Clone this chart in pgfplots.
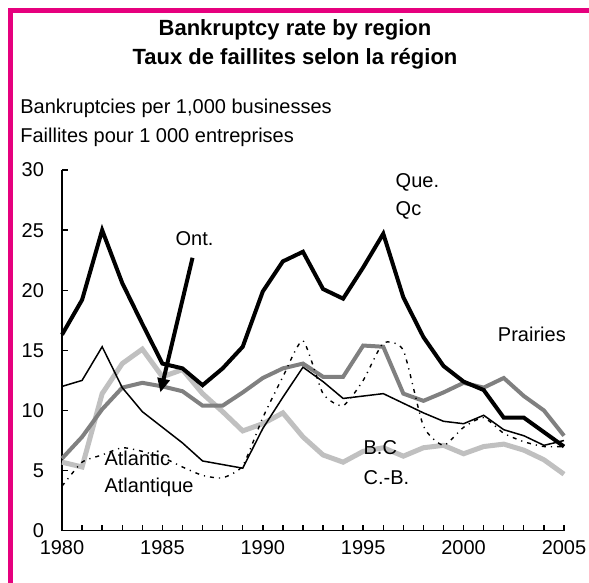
\documentclass[border=0pt]{standalone}
\usepackage{fontspec}
\setmainfont{Liberation Sans}
\usepackage{pgfplots}
\pgfplotsset{compat=1.18}
\usetikzlibrary{arrows.meta}
\definecolor{framemag}{RGB}{230,0,126}
\definecolor{prgrey}{RGB}{128,128,128}
\definecolor{bcgrey}{RGB}{192,192,192}

\begin{document}
\fontsize{10}{12}\selectfont
\begin{tikzpicture}
\path[use as bounding box] (0,0) rectangle (294.5pt,-291.5pt);
\begin{axis}[
  at={(31pt,-265.35pt)}, anchor=south west,
  scale only axis, width=251pt, height=180.35pt,
  xmin=1980, xmax=2005, ymin=0, ymax=30,
  axis x line*=bottom, axis y line*=left,
  axis line style={line width=0.7pt,-},
  xtick={1980,1985,...,2005}, minor xtick={1980,...,2005},
  ytick={0,5,...,30},
  tick align=inside,
  major tick length=3pt, minor tick length=3pt,
  every tick/.style={line width=0.7pt,black},
  /pgf/number format/assume math mode=true,
  xticklabel style={/pgf/number format/1000 sep={}, yshift=-1.5pt},
  yticklabel style={xshift=-5.5pt},
  tick label style={font=\fontsize{10}{12}\selectfont},
  clip=false,
]
% B.C. / C.-B.
\addplot[color=bcgrey, line width=2.5pt] coordinates {
  (1980,5.7) (1981,5.3) (1982,11.4) (1983,13.9) (1984,15.1) (1985,12.8) (1986,13.4) (1987,11.4) (1988,9.9) (1989,8.3)
  (1990,8.9) (1991,9.8) (1992,7.8) (1993,6.3) (1994,5.7) (1995,6.6) (1996,6.9) (1997,6.2) (1998,6.9) (1999,7.1)
  (2000,6.4) (2001,7.0) (2002,7.2) (2003,6.7) (2004,5.9) (2005,4.7)
};
% Prairies
\addplot[color=prgrey, line width=2pt] coordinates {
  (1980,6.0) (1981,7.8) (1982,10.1) (1983,11.9) (1984,12.3) (1985,12.0) (1986,11.6) (1987,10.4) (1988,10.4) (1989,11.5)
  (1990,12.7) (1991,13.5) (1992,13.9) (1993,12.8) (1994,12.8) (1995,15.4) (1996,15.3) (1997,11.4) (1998,10.8) (1999,11.5)
  (2000,12.3) (2001,11.9) (2002,12.7) (2003,11.2) (2004,10.0) (2005,7.9)
};
% Atlantic / Atlantique
\addplot[black, line width=0.7pt, smooth, tension=0.35, dash pattern=on 2pt off 2.5pt on 0.6pt off 2.5pt] coordinates {
  (1980,3.7) (1981,5.7) (1982,6.3) (1983,6.9) (1984,6.6) (1985,6.1) (1986,5.3) (1987,4.6) (1988,4.4) (1989,5.4)
  (1990,9.4) (1991,12.8) (1992,15.8) (1993,11.4) (1994,10.4) (1995,12.5) (1996,15.6) (1997,15.0) (1998,8.7) (1999,7.1)
  (2000,8.6) (2001,9.4) (2002,8.1) (2003,7.4) (2004,7.0) (2005,7.0)
};
% Ont.
\addplot[black, line width=0.75pt] coordinates {
  (1980,12.0) (1981,12.5) (1982,15.3) (1983,11.9) (1984,9.9) (1985,8.6) (1986,7.3) (1987,5.8) (1988,5.5) (1989,5.2)
  (1990,8.5) (1991,11.1) (1992,13.6) (1993,12.4) (1994,11.0) (1995,11.2) (1996,11.4) (1997,10.6) (1998,9.8) (1999,9.1)
  (2000,8.9) (2001,9.6) (2002,8.4) (2003,7.9) (2004,7.1) (2005,7.5)
};
% Que. / Qc
\addplot[black, line width=2pt] coordinates {
  (1980,16.3) (1981,19.2) (1982,25.0) (1983,20.6) (1984,17.2) (1985,13.9) (1986,13.5) (1987,12.1) (1988,13.5) (1989,15.3)
  (1990,19.9) (1991,22.4) (1992,23.2) (1993,20.1) (1994,19.3) (1995,21.9) (1996,24.7) (1997,19.4) (1998,16.1) (1999,13.7)
  (2000,12.4) (2001,11.7) (2002,9.4) (2003,9.4) (2004,8.2) (2005,7.0)
};

\draw[line width=2pt, -{Triangle[length=7pt,width=6pt]}] (axis cs:1986.5,22.7) -- (axis cs:1984.9,11.5);

\node at (axis cs:1986.6,24.3) {Ont.};
\node[anchor=west, inner sep=0pt] at (axis cs:1996.6,29.0) {Que.};
\node[anchor=west, inner sep=0pt] at (axis cs:1996.6,26.6) {Qc};
\node at (axis cs:2003.4,16.3) {Prairies};
\node[anchor=west, inner sep=0pt] at (axis cs:1982.1,6.0) {Atlantic};
\node[anchor=west, inner sep=0pt] at (axis cs:1982.1,3.6) {Atlantique};
\node[anchor=west, inner sep=0pt] at (axis cs:1995.0,6.9) {B.C};
\node[anchor=west, inner sep=0pt] at (axis cs:1995.0,4.4) {C.-B.};
\end{axis}

\draw[framemag, line width=2.5pt] (5pt,-291.5pt) -- (5pt,-5.5pt) -- (294.5pt,-5.5pt);
\node[anchor=base, font=\fontsize{11}{13}\selectfont\bfseries, inner sep=0pt] at (147.5pt,-18pt) {Bankruptcy rate by region};
\node[anchor=base, font=\fontsize{11}{13}\selectfont\bfseries, inner sep=0pt] at (147.5pt,-32.5pt) {Taux de faillites selon la région};
\node[anchor=base west, inner sep=0pt] at (10pt,-57pt) {Bankruptcies per 1,000 businesses};
\node[anchor=base west, inner sep=0pt] at (10pt,-71pt) {Faillites pour 1 000 entreprises};
\end{tikzpicture}
\end{document}
